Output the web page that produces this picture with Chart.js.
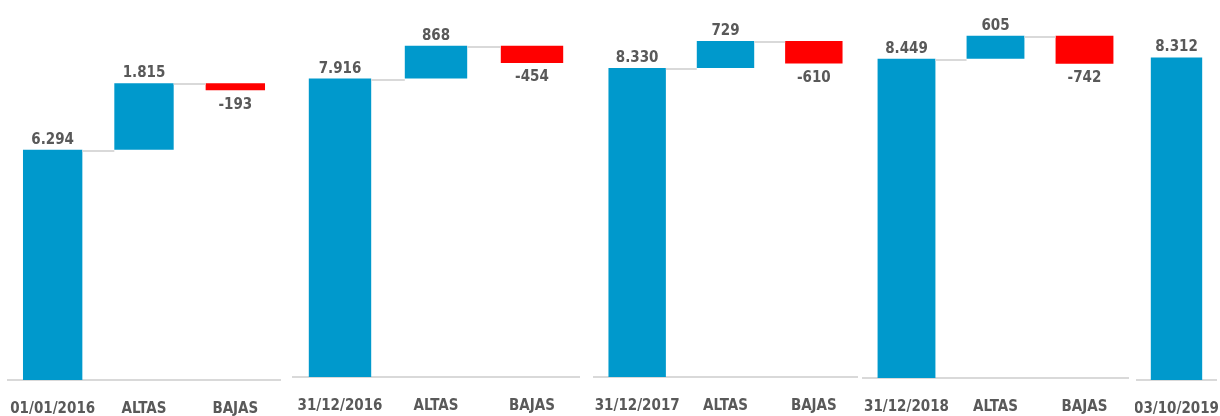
<!DOCTYPE html>
<html>
<head>
<meta charset="utf-8">
<script src="https://cdn.jsdelivr.net/npm/chart.js@4"></script>
<style>
  html, body { margin: 0; padding: 0; background: #fff; overflow: hidden; }
  #wrap { position: relative; width: 1220px; height: 416px; overflow: hidden; }
  .panel { position: absolute; top: 0; height: 440px; }
</style>
</head>
<body>
<div id="wrap"></div>
<script>
// datos
const startLabels = ['01/01/2016', '31/12/2016', '31/12/2017', '31/12/2018'];
const startValues = [6294, 7916, 8330, 8449];
const altasValues = [1815, 868, 729, 605];
const bajasValues = [-193, -454, -610, -742];
const stepLabels = ['ALTAS', 'BAJAS'];
const finalLabel = '03/10/2019';
const finalValue = 8312;

// posicion de cada grafico: left, width, linea base (px) y px por unidad
const layout = [
    { left: 7,    width: 274, base: 380, ppu: 0.0366 },
    { left: 292,  width: 288, base: 377, ppu: 0.0377 },
    { left: 593,  width: 265, base: 377, ppu: 0.0371 },
    { left: 862,  width: 267, base: 378, ppu: 0.0378 },
    { left: 1135, width: 83,  base: 380, ppu: 0.0388 }
];

const BLUE = '#0099CC';
const RED = '#FF0000';
const GREY_TXT = '#595959';
const FONT = "'Liberation Sans Narrow', 'DejaVu Sans Condensed', 'DejaVu Sans', sans-serif";

function fmt(v) {
    var s = String(Math.abs(v)).replace(/\B(?=(\d{3})+(?!\d))/g, '.');
    return (v < 0 ? '-' : '') + s;
}

// etiquetas y conectores
const waterfallPlugin = {
    id: 'waterfall',
    afterDatasetsDraw(chart) {
        const ctx = chart.ctx;
        const meta = chart.getDatasetMeta(0);
        const ds = chart.data.datasets[0];
        const y = chart.scales.y;
        ctx.save();
        // conectores
        ctx.strokeStyle = '#D9D9D9';
        ctx.lineWidth = 2;
        for (let i = 0; i < meta.data.length - 1; i++) {
            const a = meta.data[i], b = meta.data[i + 1];
            const lvl = Math.round(y.getPixelForValue(ds.data[i][1])) + 1;
            ctx.beginPath();
            ctx.moveTo(a.x + a.width / 2, lvl);
            ctx.lineTo(b.x - b.width / 2, lvl);
            ctx.stroke();
        }
        // valores
        ctx.fillStyle = GREY_TXT;
        ctx.font = 'bold 15px ' + FONT;
        ctx.textAlign = 'center';
        meta.data.forEach(function(bar, i) {
            const v = ds.values[i];
            const top = Math.min(bar.y, bar.base);
            const bottom = Math.max(bar.y, bar.base);
            if (v < 0) {
                ctx.textBaseline = 'top';
                ctx.fillText(fmt(v), bar.x, bottom + 7);
            } else {
                ctx.textBaseline = 'alphabetic';
                ctx.fillText(fmt(v), bar.x, top - 6);
            }
        });
        ctx.restore();
    }
};

function makePanel(idx, labels, ranges, values, colors) {
    const L = layout[idx];
    const div = document.createElement('div');
    div.className = 'panel';
    div.style.left = L.left + 'px';
    div.style.width = L.width + 'px';
    const canvas = document.createElement('canvas');
    div.appendChild(canvas);
    document.getElementById('wrap').appendChild(div);

    const chart = new Chart(canvas.getContext('2d'), {
        type: 'bar',
        data: {
            labels: labels,
            datasets: [{
                data: ranges,
                values: values,
                backgroundColor: colors,
                borderWidth: 0,
                categoryPercentage: 1,
                barPercentage: 0.65
            }]
        },
        options: {
            responsive: true,
            maintainAspectRatio: false,
            animation: false,
            layout: { padding: { top: 20, left: 0, right: 0, bottom: 0 } },
            plugins: { legend: { display: false }, tooltip: { enabled: false } },
            scales: {
                x: {
                    grid: { display: true, drawOnChartArea: false, drawTicks: true, tickLength: 20, color: 'rgba(0,0,0,0)' },
                    border: { display: true, color: '#D9D9D9', width: 2 },
                    ticks: {
                        color: GREY_TXT,
                        padding: 0,
                        maxRotation: 0,
                        autoSkip: false,
                        font: { family: FONT, size: 15, weight: 'bold' }
                    }
                },
                y: {
                    display: false,
                    min: 0,
                    max: 10000
                }
            }
        },
        plugins: [waterfallPlugin]
    });

    // ajustar la escala y la linea base al original
    const area = chart.chartArea;
    chart.options.scales.y.max = (area.bottom - area.top) / L.ppu;
    chart.update();
    div.style.top = (L.base - chart.chartArea.bottom) + 'px';
    return chart;
}

startLabels.forEach(function(lbl, i) {
    const s = startValues[i];
    const up = s + altasValues[i];
    const down = up + bajasValues[i];
    makePanel(i,
        [lbl].concat(stepLabels),
        [[0, s], [s, up], [down, up]],
        [s, altasValues[i], bajasValues[i]],
        [BLUE, BLUE, RED]);
});
makePanel(4, [finalLabel], [[0, finalValue]], [finalValue], [BLUE]);
</script>
</body>
</html>
